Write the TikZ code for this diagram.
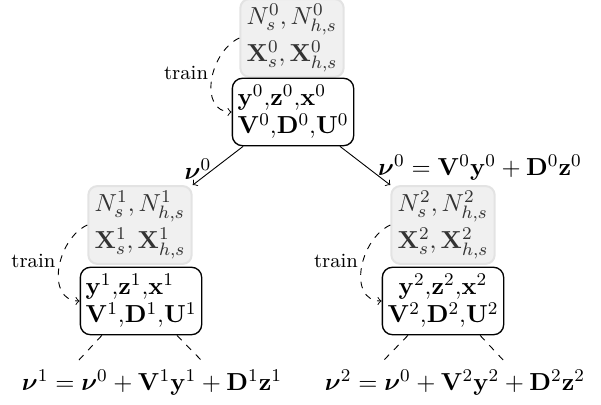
\documentclass[tikz,border=0pt]{standalone}
\usepackage{amsmath,amssymb,bm}
\usetikzlibrary{calc}
\begin{document}
\begin{tikzpicture}[x=0.445pt,y=-0.445pt,
  databox/.style={draw=black!11,line width=0.9pt,fill=black!6,rounded corners=4pt,align=left,inner sep=2pt,text=black!80,minimum width=46pt,minimum height=33pt,font=\fontsize{11.2}{13}\selectfont},
  modelbox/.style={draw=black,line width=0.6pt,rounded corners=4.5pt,inner sep=2pt,minimum width=54pt,minimum height=30pt,font=\fontsize{11.2}{12.6}\selectfont},
  formula/.style={font=\fontsize{10.9}{13}\selectfont},
  trainarrow/.style={->,dashed},
  trainlabel/.style={font=\small,left,inner sep=2pt},
  splitline/.style={dashed}]
\useasboundingbox (0,0) rectangle (601,405);
% top
\node[databox] (tg) at (292,38) {$N_s^0, N_{h,s}^0$\\[1.5pt]$\mathbf{X}_s^0, \mathbf{X}_{h,s}^0$};
\node[modelbox,align=left] (tw) at (293,112) {$\mathbf{y}^0$,$\mathbf{z}^0$,$\mathbf{x}^0$\\$\mathbf{V}^0$,$\mathbf{D}^0$,$\mathbf{U}^0$};
% left
\node[databox] (lg) at (140,225) {$N_s^1, N_{h,s}^1$\\[1.5pt]$\mathbf{X}_s^1, \mathbf{X}_{h,s}^1$};
\node[modelbox,align=left] (lw) at (141,301) {$\mathbf{y}^1$,$\mathbf{z}^1$,$\mathbf{x}^1$\\$\mathbf{V}^1$,$\mathbf{D}^1$,$\mathbf{U}^1$};
% right
\node[databox] (rg) at (443,225) {$N_s^2, N_{h,s}^2$\\[1.5pt]$\mathbf{X}_s^2, \mathbf{X}_{h,s}^2$};
\node[modelbox,align=center] (rw) at (443,301) {$\mathbf{y}^2$,$\mathbf{z}^2$,$\mathbf{x}^2$\\$\mathbf{V}^2$,$\mathbf{D}^2$,$\mathbf{U}^2$};
% train curves
\draw[trainarrow] (tg.west) to[out=205,in=180,looseness=1.15] node[trainlabel,pos=0.43] {train} (tw.west);
\draw[trainarrow] (lg.west) to[out=205,in=180,looseness=1.15] node[trainlabel,pos=0.43] {train} (lw.west);
\draw[trainarrow] (rg.west) to[out=205,in=180,looseness=1.15] node[trainlabel,pos=0.43] {train} (rw.west);
% arrows
\draw[->] ([xshift=-22.2pt]tw.south) -- (lg.north east);
\draw[->] ([xshift=20.9pt]tw.south) -- (rg.north west);
\node[formula] (l0) at (198,169) {$\bm{\nu}^0$};
\node[formula] (r0) at (480,168) {$\bm{\nu}^0 = \mathbf{V}^0\mathbf{y}^0 + \mathbf{D}^0\mathbf{z}^0$};
% formulas
\node[formula] (f1) at (152,383) {$\bm{\nu}^1 = \bm{\nu}^0 + \mathbf{V}^1\mathbf{y}^1 + \mathbf{D}^1\mathbf{z}^1$};
\node[formula] (f2) at (455,383) {$\bm{\nu}^2 = \bm{\nu}^0 + \mathbf{V}^2\mathbf{y}^2 + \mathbf{D}^2\mathbf{z}^2$};
\coordinate (f1a) at (78,361); \coordinate (f1b) at (203,362);
\coordinate (f2a) at (383,361); \coordinate (f2b) at (505,362);
\draw[splitline] ([xshift=-17.4pt]lw.south) -- (f1a);
\draw[splitline] ([xshift=16pt]lw.south) -- (f1b);
\draw[splitline] ([xshift=-15.6pt]rw.south) -- (f2a);
\draw[splitline] ([xshift=16.5pt]rw.south) -- (f2b);
\end{tikzpicture}
\end{document}
